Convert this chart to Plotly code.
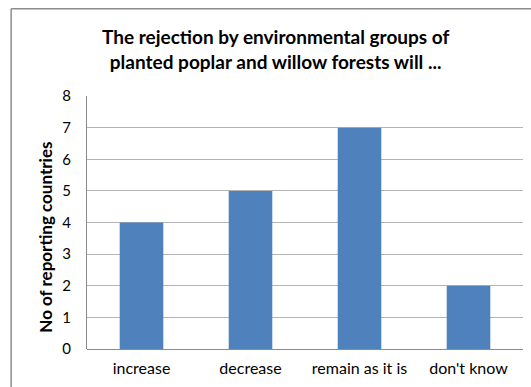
import plotly.graph_objects as go

categories = ["increase", "decrease", "remain as it is", "don't know"]
counts = [4, 5, 7, 2]
y_ticks = [0, 1, 2, 3, 4, 5, 6, 7, 8]

title_text = "The rejection by environmental groups of<br>planted poplar and willow forests will ..."
y_title = "No of reporting countries"

FONT = "Lato"
BAR_COLOR = "#4F81BD"
GRID_COLOR = "#B4B4B4"
AXIS_COLOR = "#8C8C8C"

fig = go.Figure(
    go.Bar(
        x=categories,
        y=counts,
        marker=dict(color=BAR_COLOR, line=dict(width=0)),
        hoverinfo="x+y",
    )
)

# outer chart border (left and top edges)
border = dict(color="#8C8C8C", width=1.5)
fig.add_shape(type="line", xref="paper", yref="paper",
              x0=-0.174, x1=-0.174, y0=-0.2, y1=1.345, line=border)
fig.add_shape(type="line", xref="paper", yref="paper",
              x0=-0.174, x1=1.1, y0=1.345, y1=1.345, line=border)

# chart title
fig.add_annotation(
    text=title_text, xref="paper", yref="paper",
    x=0.433, y=1.186, xanchor="center", yanchor="middle",
    showarrow=False, align="center",
    font=dict(family=FONT, size=19, color="#000000", weight="bold"),
)

# value axis title
fig.add_annotation(
    text=y_title, xref="paper", yref="paper",
    x=-0.094, y=0.44, xanchor="center", yanchor="middle",
    textangle=-90, showarrow=False,
    font=dict(family=FONT, size=17, color="#000000", weight="bold"),
)

fig.update_layout(
    width=531,
    height=387,
    margin=dict(l=87, r=8, t=96, b=38),
    paper_bgcolor="white",
    plot_bgcolor="white",
    bargap=0.6,
    showlegend=False,
    font=dict(family=FONT, color="#000000"),
    xaxis=dict(
        showgrid=False,
        showline=False,
        ticks="",
        tickfont=dict(family=FONT, size=16, color="#000000"),
        ticklabelstandoff=8,
    ),
    yaxis=dict(
        range=[0, 8],
        tickvals=y_ticks,
        showgrid=True,
        gridcolor=GRID_COLOR,
        gridwidth=1,
        showline=True,
        linecolor=AXIS_COLOR,
        linewidth=1,
        zeroline=True,
        zerolinecolor=AXIS_COLOR,
        zerolinewidth=1,
        ticks="",
        tickfont=dict(family=FONT, size=15, color="#000000"),
        ticklabelstandoff=12,
    ),
)

fig.write_html("out.html")
